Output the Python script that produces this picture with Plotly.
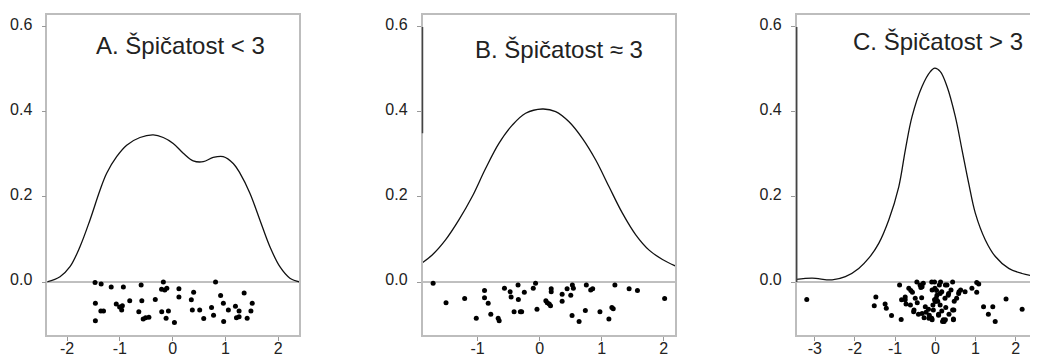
import plotly.graph_objects as go

# The page body has an 8px margin, so the figure is 8px smaller than the window
OFF = 8
W, H = 1038 - OFF, 354 - OFF

# ---------------- data ----------------
panel_titles = ["A. Špičatost < 3", "B. Špičatost ≈ 3", "C. Špičatost > 3"]

a_xticks = [-2, -1, 0, 1, 2]
b_xticks = [-1, 0, 1, 2]
c_xticks = [-3, -2, -1, 0, 1, 2]
y_ticks = [0.0, 0.2, 0.4, 0.6]

a_curve_x = [-2.386, -2.134, -1.945, -1.756, -1.566, -1.377, -1.250, -1.061, -0.871, -0.619,
             -0.367, -0.178, 0.011, 0.201, 0.390, 0.580, 0.769, 0.958, 1.148, 1.275,
             1.464, 1.653, 1.843, 2.032, 2.222, 2.411]
a_curve_y = [0.0, 0.0125, 0.036, 0.083, 0.146, 0.216, 0.256, 0.295, 0.322, 0.340,
             0.346, 0.340, 0.326, 0.303, 0.285, 0.283, 0.293, 0.295, 0.279, 0.256,
             0.209, 0.146, 0.083, 0.036, 0.009, 0.0]
a_dots_x = [-1.47, -1.355, -1.164, -0.934, -0.597, -0.176, -0.21, -0.15, -0.11, 0.119,
            0.813, 0.398, 0.119, 0.354, 0.909, 1.355, -1.464, -1.36, -1.31, -1.464,
            -1.068, -1.005, -0.953, -0.966, -0.813, -0.584, -0.329, -0.641, -0.558, -0.513,
            -0.45, -0.207, -0.080, -0.124, 0.034, 0.373, 0.513, 0.589, 0.737, 0.775,
            0.961, 1.056, 0.967, 1.190, 1.259, 1.209, 1.259, 1.412, 1.483, 1.508]
a_dots_y = [-0.001, -0.005, -0.012, -0.012, -0.007, 0.0, -0.017, -0.019, -0.015, -0.016,
            0.0, -0.024, -0.035, -0.042, -0.032, -0.026, -0.050, -0.068, -0.068, -0.091,
            -0.052, -0.059, -0.056, -0.066, -0.044, -0.044, -0.041, -0.070, -0.087, -0.084,
            -0.083, -0.070, -0.068, -0.085, -0.095, -0.066, -0.066, -0.086, -0.060, -0.078,
            -0.050, -0.066, -0.093, -0.057, -0.068, -0.084, -0.082, -0.085, -0.068, -0.050]

b_curve_x = [-1.903, -1.731, -1.516, -1.301, -1.086, -0.871, -0.656, -0.441, -0.226, 0.043,
             0.258, 0.473, 0.688, 0.903, 1.118, 1.333, 1.548, 1.763, 1.978, 2.182]
b_curve_y = [0.044, 0.0635, 0.099, 0.146, 0.201, 0.267, 0.326, 0.369, 0.397, 0.407,
             0.401, 0.377, 0.338, 0.287, 0.224, 0.162, 0.111, 0.075, 0.053, 0.038]
b_dots_x = [-1.716, -1.508, -1.208, -1.021, -0.888, -0.888, -0.829, -0.787, -0.668, -0.652,
            -0.567, -0.476, -0.46, -0.348, -0.343, -0.412, -0.311, -0.29, -0.247, -0.103,
            -0.066, -0.043, 0.10, 0.122, 0.154, 0.175, 0.186, 0.186, 0.362, 0.362,
            0.442, 0.501, 0.527, 0.543, 0.522, 0.635, 0.736, 0.752, 0.822, 0.854,
            0.971, 1.115, 1.163, 1.185, 1.212, 1.441, 1.575, 2.013]
b_dots_y = [-0.003, -0.049, -0.039, -0.085, -0.020, -0.037, -0.050, -0.076, -0.085, -0.091,
            -0.015, -0.023, -0.035, -0.007, -0.041, -0.070, -0.070, -0.070, -0.024, -0.015,
            -0.003, -0.064, -0.044, -0.049, -0.052, -0.056, -0.016, -0.023, -0.029, -0.045,
            -0.016, -0.031, -0.007, -0.015, -0.079, -0.093, -0.067, -0.007, -0.019, -0.016,
            -0.070, -0.087, -0.060, -0.063, -0.007, -0.016, -0.020, -0.039]

c_curve_x = [-3.458, -3.067, -2.570, -2.239, -1.906, -1.657, -1.408, -1.159, -0.910, -0.746,
             -0.580, -0.331, -0.124, -0.015, 0.124, 0.291, 0.498, 0.664, 0.831, 0.995,
             1.244, 1.493, 1.826, 2.157, 2.555]
c_curve_y = [0.006, 0.009, 0.005, 0.0125, 0.032, 0.056, 0.091, 0.146, 0.224, 0.311,
             0.389, 0.460, 0.495, 0.503, 0.495, 0.460, 0.389, 0.311, 0.232, 0.162,
             0.099, 0.060, 0.032, 0.020, 0.0125]
c_dots_x = [-3.20, -1.48, -1.52, -1.25, -1.22, -1.09, -0.85, -0.89, -0.84, -0.75,
            -0.73, -0.66, -0.61, -0.57, -0.53, -0.50, -0.46, -0.45, -0.42, -0.38,
            -0.36, -0.34, -0.30, -0.28, -0.23, -0.17, -0.15, -0.09, -0.02, -0.09,
            -0.06, -0.02, 0.02, 0.06, -0.05, -0.01, 0.03, 0.04, 0.08, 0.10,
            0.13, 0.12, 0.16, 0.16, 0.20, 0.22, 0.24, 0.26, 0.29, 0.32,
            0.34, 0.39, 0.43, 0.43, 0.47, 0.45, 0.53, 0.59, 0.63, 0.74,
            0.91, 1.03, 1.08, 1.03, 1.20, 1.32, 1.43, 1.49, 1.76, 2.16,
            2.53, -0.54, -0.33, -0.16, -0.08, 0.08, 0.18, 0.25, 0.45, 0.46,
            -0.62, -0.75, -0.25, 0.0, 0.12, 0.33, 0.58, -0.08, -0.33, 0.25]
c_dots_y = [-0.041, -0.035, -0.056, -0.052, -0.062, -0.079, -0.088, -0.007, -0.042, -0.035,
            -0.052, -0.015, -0.020, -0.024, -0.066, -0.038, 0.0, -0.049, -0.076, -0.007,
            -0.013, -0.037, -0.003, -0.084, -0.071, -0.064, -0.078, 0.0, 0.0, -0.085,
            -0.054, -0.042, -0.038, -0.045, -0.066, -0.015, -0.020, -0.031, -0.076, -0.007,
            0.0, -0.054, -0.023, -0.068, -0.089, -0.093, -0.038, -0.060, -0.007, -0.031,
            -0.076, -0.019, 0.0, -0.066, -0.045, -0.087, -0.038, -0.023, -0.019, -0.023,
            -0.015, -0.001, -0.005, -0.024, -0.058, -0.076, -0.058, -0.093, -0.040, -0.064,
            -0.050, -0.070, -0.074, -0.085, -0.089, -0.078, -0.093, -0.089, -0.089, -0.066,
            -0.054, -0.042, -0.058, -0.046, -0.027, -0.027, -0.027, -0.019, -0.011, -0.007]

a_xrange = [-2.375, 2.40]
b_xrange = [-1.887, 2.18]
c_xrange = [-3.45, 2.555]
y_range = [-0.1247, 0.6282]

# title anchor points, in each panel's data coordinates
title_x = [0.148, 0.311, 0.067]
title_y = [0.556, 0.547, 0.565]

# ---------------- figure ----------------
FONT = "Liberation Sans, Arial, sans-serif"
FRAME = "#bdbdbd"
INK = "#111111"
TXT = "#222222"

fig = go.Figure()

panels = [
    ("x", "y", a_curve_x, a_curve_y, a_dots_x, a_dots_y),
    ("x2", "y2", b_curve_x, b_curve_y, b_dots_x, b_dots_y),
    ("x3", "y3", c_curve_x, c_curve_y, c_dots_x, c_dots_y),
]
for xa, ya, cx, cy, dx, dy in panels:
    fig.add_trace(go.Scatter(x=cx, y=cy, mode="lines", xaxis=xa, yaxis=ya,
                             line=dict(color=INK, width=1.3, shape="spline", smoothing=1.0),
                             hoverinfo="skip", showlegend=False))
    fig.add_trace(go.Scatter(x=dx, y=dy, mode="markers", xaxis=xa, yaxis=ya,
                             marker=dict(color="#000000", size=5),
                             hoverinfo="skip", showlegend=False, cliponaxis=False))

def dom(p0, p1):
    return [max(0.0, (p0 - OFF) / W), min(1.0, (p1 - OFF) / W)]

domains = [dom(47.3, 299.3), dom(422.5, 675.0), dom(796.7, 1038.0)]
xranges = [a_xrange, b_xrange, c_xrange]
xticks = [a_xticks, b_xticks, c_xticks]

def xaxis_cfg(i):
    return dict(domain=domains[i], range=xranges[i], anchor=["y", "y2", "y3"][i],
                tickmode="array", tickvals=xticks[i], ticktext=[str(v) for v in xticks[i]],
                ticks="outside", ticklen=4, tickwidth=1, tickcolor="#999999",
                ticklabelstandoff=-6,
                showline=True, linecolor=FRAME, linewidth=1.5, mirror=True,
                showgrid=False, zeroline=False, automargin=False,
                tickfont=dict(family=FONT, size=16, color=TXT))

def yaxis_cfg(i):
    return dict(domain=[0, 1], range=y_range, anchor=["x", "x2", "x3"][i],
                tickmode="array", tickvals=y_ticks, ticktext=[f"{v:.1f}" for v in y_ticks],
                ticks="outside", ticklen=4, tickwidth=1, tickcolor="#999999",
                ticklabelstandoff=6, ticklabelshift=-3,
                showline=True, linecolor=FRAME, linewidth=1.5, mirror=(i < 2),
                showgrid=False, zeroline=False, automargin=False,
                tickfont=dict(family=FONT, size=16, color=TXT))

top_px, bottom_px = 15, 335   # plot box in window pixels
fig.update_layout(
    width=W, height=H,
    margin=dict(l=0, r=0, t=top_px - OFF, b=(H + OFF) - bottom_px, pad=0),
    paper_bgcolor="white", plot_bgcolor="white",
    xaxis=xaxis_cfg(0), xaxis2=xaxis_cfg(1), xaxis3=xaxis_cfg(2),
    yaxis=yaxis_cfg(0), yaxis2=yaxis_cfg(1), yaxis3=yaxis_cfg(2),
)

# zero reference lines
shapes = []
for xa, ya in [("x", "y"), ("x2", "y2"), ("x3", "y3")]:
    shapes.append(dict(type="line", xref=f"{xa} domain", yref=ya, x0=0, x1=1, y0=0, y1=0,
                       line=dict(color="#808080", width=1), layer="below"))
# darker left edges (as in the scanned original)
shapes.append(dict(type="line", xref="x2 domain", yref="y2", x0=0, x1=0, y0=0.35, y1=0.6,
                   line=dict(color="#444444", width=1.5)))
shapes.append(dict(type="line", xref="x3 domain", yref="y3", x0=0, x1=0, y0=0.0, y1=0.6,
                   line=dict(color="#444444", width=1.5)))
fig.update_layout(shapes=shapes)

# panel titles
for i, t in enumerate(panel_titles):
    xr = ["x", "x2", "x3"][i]
    yr = ["y", "y2", "y3"][i]
    fig.add_annotation(text=t, xref=xr, yref=yr, x=title_x[i], y=title_y[i],
                       xanchor="center", yanchor="middle", showarrow=False,
                       font=dict(family=FONT, size=24, color=TXT))

fig.write_html("out.html")
